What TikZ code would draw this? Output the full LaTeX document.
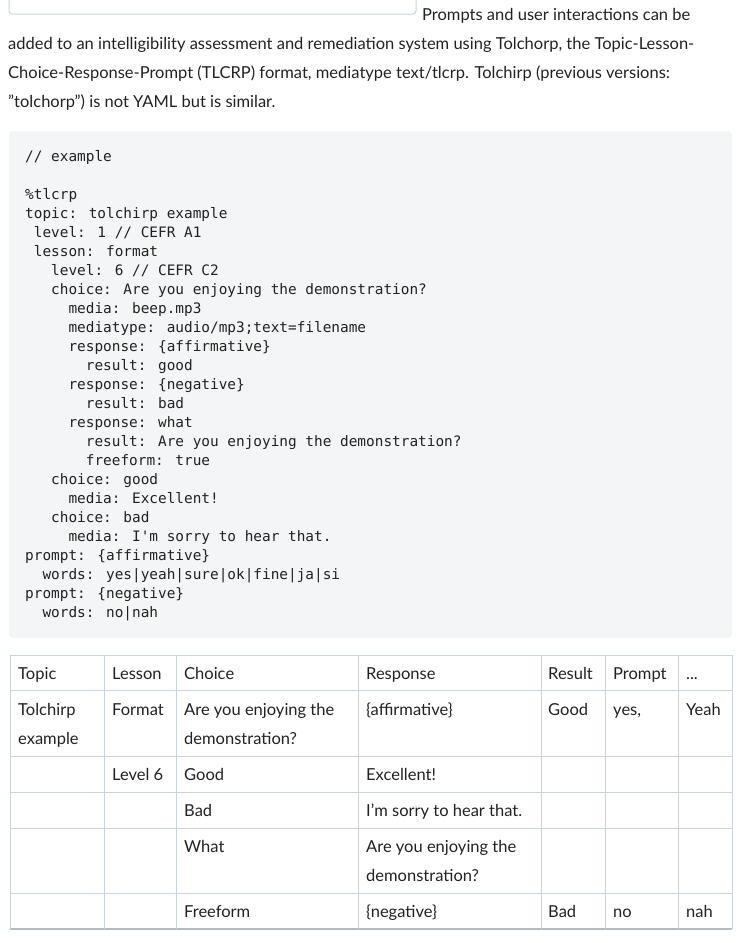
\documentclass[tikz,border=0pt]{standalone}
\usepackage{fontspec}
\setmainfont{Lato}
\newfontfamily\codefont{DejaVu Sans Mono}
\definecolor{bord}{HTML}{C8D4DE}
\definecolor{codebg}{HTML}{F4F5F6}
\definecolor{txt}{HTML}{222222}
\begin{document}
\begin{tikzpicture}[x=1pt,y=-1pt,
  prose/.style={anchor=base west,inner sep=0pt,text=txt,font=\fontsize{16.5}{20}\selectfont},
  codeline/.style={anchor=base west,inner sep=0pt,text=txt,font=\codefont\fontsize{14.4}{19}\selectfont},
  cell/.style={anchor=base west,inner sep=0pt,text=txt,font=\fontsize{16.5}{20}\selectfont},
  grid/.style={draw=bord,line width=1pt}]
\useasboundingbox (0,0) rectangle (751,943);
% top input box
\draw[bord,line width=1pt,rounded corners=3pt] (9,-5) -- (9,14) -- (416,14) -- (416,-5);
% prose
\node[prose] (p1) at (422,20) {Prompts and user interactions can be};
\node[prose] (p2) at (8,49) {added to an intelligibility assessment and remediation system using Tolchorp, the Topic-Lesson-};
\node[prose] (p3) at (8,78) {Choice-Response-Prompt (TLCRP) format, mediatype text/tlcrp. Tolchirp (previous versions:};
\node[prose] (p4) at (8,107) {"tolchorp") is not YAML but is similar.};
% code box
\fill[codebg,rounded corners=4pt] (9,131) rectangle (732,638);
\def\cx{25}
\foreach \i/\t in {0/{// example},2/{\%tlcrp},3/{topic: tolchirp example},4/{\ level: 1 // CEFR A1},5/{\ lesson: format},6/{\ \ \ level: 6 // CEFR C2},7/{\ \ \ choice: Are you enjoying the demonstration?},8/{\ \ \ \ \ media: beep.mp3},9/{\ \ \ \ \ mediatype: audio/mp3;text=filename},10/{\ \ \ \ \ response: \{affirmative\}},11/{\ \ \ \ \ \ \ result: good},12/{\ \ \ \ \ response: \{negative\}},13/{\ \ \ \ \ \ \ result: bad},14/{\ \ \ \ \ response: what},15/{\ \ \ \ \ \ \ result: Are you enjoying the demonstration?},16/{\ \ \ \ \ \ \ freeform: true},17/{\ \ \ choice: good},18/{\ \ \ \ \ media: Excellent!},19/{\ \ \ choice: bad},20/{\ \ \ \ \ media: I'm sorry to hear that.},21/{prompt: \{affirmative\}},22/{\ \ words: yes|yeah|sure|ok|fine|ja|si},23/{prompt: \{negative\}},24/{\ \ words: no|nah}}
  \node[codeline] (c\i) at (\cx,{161+19*\i}) {\t};
% table grid
\foreach \yy in {655,690,756,792,828,893} \draw[grid] (10,\yy) -- (732,\yy);
\draw[draw=bord!70!gray,line width=2pt] (10,929) -- (732,929);
\foreach \xx in {10,104,176,358,541,605,678,732} \draw[grid] (\xx,655) -- (\xx,929);
% header
\node[cell] (h1) at (18,679) {Topic};
\node[cell] (h2) at (112,679) {Lesson};
\node[cell] (h3) at (184,679) {Choice};
\node[cell] (h4) at (366,679) {Response};
\node[cell] (h5) at (548,679) {Result};
\node[cell] (h6) at (613,679) {Prompt};
\node[cell] (h7) at (686,679) {...};
% row 1
\node[cell] (a1) at (18,715) {Tolchirp};
\node[cell] (a1b) at (18,744) {example};
\node[cell] (a2) at (112,715) {Format};
\node[cell] (a3) at (184,715) {Are you enjoying the};
\node[cell] (a3b) at (184,744) {demonstration?};
\node[cell] (a4) at (366,715) {\{affirmative\}};
\node[cell] (a5) at (548,715) {Good};
\node[cell] (a6) at (613,715) {yes,};
\node[cell] (a7) at (686,715) {Yeah};
% row 2
\node[cell] (b2) at (112,780) {Level 6};
\node[cell] (b3) at (184,780) {Good};
\node[cell] (b4) at (366,780) {Excellent!};
% row 3
\node[cell] (d3) at (184,816) {Bad};
\node[cell] (d4) at (366,816) {I'm sorry to hear that.};
% row 4
\node[cell] (e3) at (184,852) {What};
\node[cell] (e4) at (366,852) {Are you enjoying the};
\node[cell] (e4b) at (366,881) {demonstration?};
% row 5
\node[cell] (f3) at (184,917) {Freeform};
\node[cell] (f4) at (366,917) {\{negative\}};
\node[cell] (f5) at (548,917) {Bad};
\node[cell] (f6) at (613,917) {no};
\node[cell] (f7) at (686,917) {nah};
\end{tikzpicture}
\end{document}
